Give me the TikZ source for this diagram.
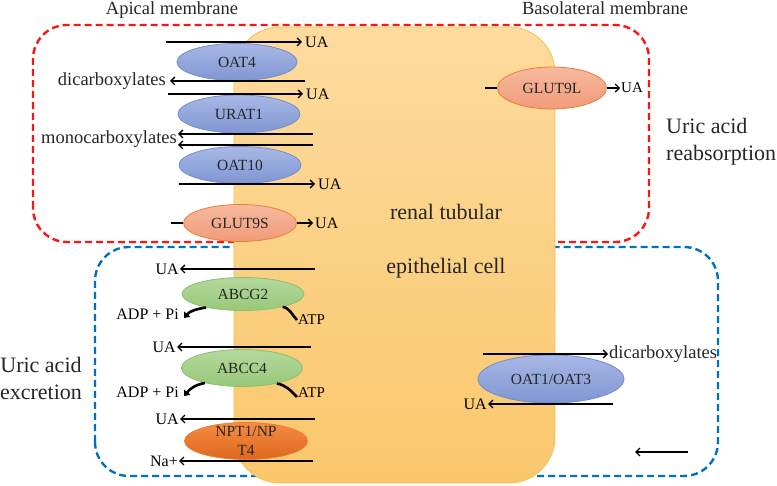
\documentclass[tikz,border=0pt]{standalone}
\usepackage{fontspec}
\setmainfont{Liberation Serif}
\usetikzlibrary{
    arrows.meta,
    positioning,
    shapes.geometric
}
\definecolor{cellTop}{RGB}{253,219,158}
\definecolor{cellBot}{RGB}{250,199,108}
\definecolor{cellLine}{RGB}{246,192,80}
\definecolor{oatTop}{RGB}{168,184,230}
\definecolor{oatBot}{RGB}{128,150,210}
\definecolor{oatLine}{RGB}{114,140,208}
\definecolor{glutTop}{RGB}{247,185,158}
\definecolor{glutBot}{RGB}{241,155,122}
\definecolor{glutLine}{RGB}{237,125,49}
\definecolor{abcTop}{RGB}{180,216,156}
\definecolor{abcBot}{RGB}{152,200,122}
\definecolor{abcLine}{RGB}{140,192,108}
\definecolor{nptTop}{RGB}{245,140,66}
\definecolor{nptBot}{RGB}{222,104,30}
\definecolor{nptLine}{RGB}{237,125,49}
\definecolor{reabsRed}{RGB}{255,20,20}
\definecolor{excrBlue}{RGB}{0,112,192}
\definecolor{txt}{RGB}{38,38,38}
\tikzset{
    tport/.style={
        ellipse,
        draw,
        inner sep=0pt,
        line width=0.8pt,
        align=center,
        text=txt,
        font=\fontsize{15.5}{19}\selectfont
    },
    oat/.style={
        tport,
        draw=oatLine,
        top color=oatTop,
        bottom color=oatBot
    },
    glut/.style={
        tport,
        draw=glutLine,
        top color=glutTop,
        bottom color=glutBot
    },
    abc/.style={
        tport,
        draw=abcLine,
        top color=abcTop,
        bottom color=abcBot
    },
    npt/.style={
        tport,
        inner sep=-8pt,
        draw=nptLine,
        top color=nptTop,
        bottom color=nptBot
    },
    lab/.style={
        inner sep=1pt,
        font=\fontsize{16}{18}\selectfont
    },
    labbig/.style={
        inner sep=1pt,
        text=txt,
        font=\fontsize{18.5}{20}\selectfont
    },
    arr/.style={
        -{Straight Barb[length=4pt,width=8pt]},
        line width=1.4pt
    },
    stub/.style={
        line width=1.4pt
    },
    curv/.style={
        line width=2.6pt
    },
    curvtip/.style={
        curv,
        -{Triangle[length=5pt,width=8pt]}
    }
}

\begin{document}
\begin{tikzpicture}[
    x=1pt, y=1pt,
    zone/.style={
        rounded corners=34pt,
        line width=2.4pt,
        dash pattern=on 7pt off 4pt
    },
    cellbody/.style={
        rounded corners=46pt,
        draw=cellLine,
        line width=0.8pt,
        top color=cellTop,
        bottom color=cellBot
    },
    big/.style={
        inner sep=0pt,
        text=txt,
        font=\fontsize{22}{27}\selectfont
    }
]
\useasboundingbox (0,0) rectangle (777,485);

\draw[zone, draw=reabsRed] (33,243) rectangle (649,460);
\draw[zone, draw=excrBlue] (95,9) rectangle (718,238);
\draw[cellbody] (234,2) rectangle (555,458);

\node[labbig] (apical) at (172,475) {Apical membrane};
\node[labbig] (baso) at (605,477) {Basolateral membrane};
\node[big, align=left, anchor=west] (reabs) at (666,343) {Uric acid\\reabsorption};
\node[big, align=center] (excr) at (41,107) {Uric acid\\excretion};
\node[big] (renal) at (446,273) {renal tubular};
\node[big, below=38pt of renal] (epi) {epithelial cell};

\node[oat, minimum width=120pt, minimum height=37pt] (oat4) at (237,423) {OAT4};
\node[oat, minimum width=122pt, minimum height=38pt] (urat1) at (239,371) {URAT1};
\node[oat, minimum width=122pt, minimum height=37pt] (oat10) at (240,320) {OAT10};
\node[glut, minimum width=113pt, minimum height=37pt] (glut9s) at (240,262) {GLUT9S};
\node[glut, minimum width=109pt, minimum height=42pt] (glut9l) at (552,397) {GLUT9L};
\node[abc, minimum width=122pt, minimum height=33pt] (abcg2) at (243,191) {ABCG2};
\node[abc, minimum width=121pt, minimum height=37pt] (abcc4) at (242,117) {ABCC4};
\node[npt, minimum width=123pt, minimum height=37pt] (npt) at (246,44) {NPT1/NP\\T4};
\node[oat, minimum width=146pt, minimum height=48pt] (oat13) at (551,106) {OAT1/OAT3};

\coordinate (a1) at (166,443);
\node[lab, anchor=west, inner xsep=3pt] (ua1) at (302,443) {UA};
\draw[arr] (a1) -- (ua1);
\coordinate (a2) at (305,404);
\node[labbig, anchor=east, inner xsep=4pt] (dic1) at (170,404) {dicarboxylates};
\draw[arr] (a2) -- (dic1);
\coordinate (a3) at (168,391);
\node[lab, anchor=west, inner xsep=3pt] (ua2) at (303,391) {UA};
\draw[arr] (a3) -- (ua2);
\coordinate (a4) at (313,351);
\coordinate (a5) at (313,340);
\node[labbig, anchor=east] (mono) at (178,345.5) {monocarboxylates};
\draw[arr] (a4) -- (a4 -| mono.east);
\draw[arr] (a5) -- (a5 -| mono.east);
\coordinate (a6) at (179,301);
\node[lab, anchor=west, inner xsep=3pt] (ua3) at (315,301) {UA};
\draw[arr] (a6) -- (ua3);
\coordinate (a7) at (171,262);
\node[lab, anchor=west, inner xsep=2pt] (ua4) at (313,262) {UA};
\draw[stub] (a7) -- (glut9s.west);
\draw[arr] (glut9s.east) -- (ua4);
\coordinate (a8) at (485,397);
\node[lab, anchor=west, font=\fontsize{15}{17}\selectfont] (ua5) at (620,397) {UA};
\draw[stub] (a8) -- (glut9l.west);
\draw[arr, line width=1.1pt] (glut9l.east) -- (ua5);

\coordinate (b1) at (315,216);
\node[lab, anchor=east] (ua6) at (180,216) {UA};
\draw[arr] (b1) -- (ua6);
\node[lab, anchor=east, inner xsep=5pt] (adp1) at (184,171) {ADP + Pi};
\node[lab, anchor=west, font=\fontsize{15}{17}\selectfont] (atp1) at (297,165) {ATP};
\draw[curvtip] (abcg2.200) to[out=190,in=50] ([yshift=-4pt]adp1.east);
\draw[curv] (abcg2.342) to[out=-10,in=135] (atp1.west);
\coordinate (b2) at (311,138);
\node[lab, anchor=east] (ua7) at (177,138) {UA};
\draw[arr] (b2) -- (ua7);
\node[lab, anchor=east, inner xsep=5pt] (adp2) at (184,93) {ADP + Pi};
\node[lab, anchor=west, font=\fontsize{15}{17}\selectfont] (atp2) at (297,92) {ATP};
\draw[curvtip] (abcc4.202) to[out=190,in=50] ([yshift=-4pt]adp2.east);
\draw[curv] (abcc4.336) to[out=-10,in=135] ([yshift=-4pt]atp2.west);
\coordinate (b3) at (315,66);
\node[lab, anchor=east] (ua8) at (180,66) {UA};
\draw[arr] (b3) -- (ua8);
\coordinate (b4) at (313,24);
\node[lab, anchor=east] (na) at (179,24) {Na+};
\draw[arr] (b4) -- (na);
\coordinate (b5) at (483,131);
\node[labbig, anchor=west] (dic2) at (608,131) {dicarboxylates};
\draw[arr] (b5) -- (dic2);
\coordinate (b6) at (613,81);
\node[lab, anchor=east] (ua9) at (488,81) {UA};
\draw[arr] (b6) -- (ua9);
\coordinate (b7) at (688,33);
\coordinate (b8) at (635,33);
\draw[arr] (b7) -- (b8);

\end{tikzpicture}
\end{document}
